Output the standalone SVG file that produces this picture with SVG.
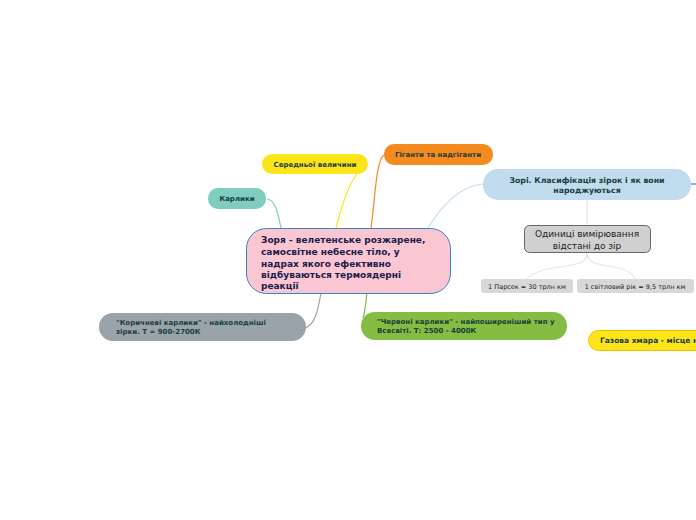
<svg xmlns="http://www.w3.org/2000/svg" width="696" height="520" viewBox="0 0 696 520">
<style>
.t{font-family:"DejaVu Sans","Verdana",sans-serif;font-weight:bold;fill:#173d3b}
.n{font-family:"DejaVu Sans","Verdana",sans-serif;fill:#222}
.c{fill:none;stroke-width:1.2}
</style>
<rect width="696" height="520" fill="#fff"/>
<g id="connectors">
<path class="c" d="M267,199 C276,200 278,214 281,228" stroke="#7fcdc0"/>
<path class="c" d="M359,171 C348,185 342,205 336,228" stroke="#fde51a"/>
<path class="c" d="M384,155 C376,160 375,200 371,228" stroke="#f58a1f"/>
<path class="c" d="M483,184 C460,186 442,205 428,228" stroke="#c2dcef"/>
<path class="c" d="M691,184 L696,184" stroke="#3b82c4"/>
<path class="c" d="M321,293 C318,310 315,325 305,328" stroke="#9ba3aa"/>
<path class="c" d="M367,293 C366,302 365,312 363,318" stroke="#84bd42"/>
<path class="c" d="M587,199 L587,225" stroke="#dde8f0"/>
<path class="c" d="M587,253 C587,262 580,264 560,267 C545,269 532,272 527,279" stroke="#dde8f0"/>
<path class="c" d="M587,253 C587,262 594,264 614,267 C625,269 632,272 635,279" stroke="#dde8f0"/>
</g>
<g id="center">
<rect x="246.5" y="228.5" width="204" height="65" rx="20" fill="#f9c6d1" stroke="#3b82c4" stroke-width="1"/>
<text class="t" font-size="9" style="fill:#1b1b4b"><tspan x="261" y="243">Зоря - велетенське розжарене,</tspan><tspan x="261" y="255">самосвітне небесне тіло, у</tspan><tspan x="261" y="267">надрах якого ефективно</tspan><tspan x="261" y="278">відбуваються термоядерні</tspan><tspan x="261" y="289">реакції</tspan></text>
</g>
<g id="karlyky">
<rect x="208" y="188" width="58" height="21" rx="10" fill="#7fcdc0"/>
<text class="t" font-size="7" x="237" y="201" text-anchor="middle">Карлики</text>
</g>
<g id="serednoi">
<rect x="262" y="154" width="106" height="20" rx="10" fill="#fde51a"/>
<text class="t" font-size="7" x="315" y="167" text-anchor="middle">Середньої величини</text>
</g>
<g id="giganty">
<rect x="384" y="144" width="109" height="21" rx="10" fill="#f58a1f"/>
<text class="t" font-size="7" x="438" y="157" text-anchor="middle">Гіганти та надгіганти</text>
</g>
<g id="zori">
<rect x="483" y="169" width="208" height="31" rx="15" fill="#c2dcef"/>
<text class="t" font-size="7.8" text-anchor="middle"><tspan x="587" y="183">Зорі. Класифікація зірок і як вони</tspan><tspan x="587" y="193">народжуються</tspan></text>
</g>
<g id="odynytsi">
<rect x="524.5" y="225.5" width="126" height="27" rx="5" fill="#d0d0d0" stroke="#666" stroke-width="1"/>
<text class="n" font-size="9" text-anchor="middle"><tspan x="587" y="237">Одиниці вимірювання</tspan><tspan x="587" y="249">відстані до зір</tspan></text>
</g>
<g id="parsek">
<rect x="481" y="279" width="92" height="14" rx="3" fill="#d8d8d8"/>
<text class="n" font-size="6.5" x="527" y="289" text-anchor="middle">1 Парсек = 30 трлн км</text>
</g>
<g id="svitlovyi">
<rect x="577" y="279" width="117" height="14" rx="3" fill="#d8d8d8"/>
<text class="n" font-size="6.5" x="635" y="289" text-anchor="middle">1 світловий рік = 9,5 трлн км</text>
</g>
<g id="hmara">
<rect x="588.5" y="330.5" width="120" height="20" rx="10" fill="#fde51a" stroke="#f0c000" stroke-width="1"/>
<text class="t" font-size="7.5" x="600" y="343">Газова хмара - місце н</text>
</g>
<g id="korychnevi">
<rect x="99" y="313" width="207" height="28" rx="14" fill="#9ba3aa"/>
<text class="t" font-size="7"><tspan x="116" y="325">"Коричневі карлики" - найхолодніші</tspan><tspan x="116" y="334">зірки. Т = 900-2700К</tspan></text>
</g>
<g id="chervoni">
<rect x="361" y="312" width="206" height="28" rx="14" fill="#84bd42"/>
<text class="t" font-size="7"><tspan x="377" y="324">"Червоні карлики" - найпоширеніший тип у</tspan><tspan x="377" y="333">Всесвіті. Т: 2500 - 4000К</tspan></text>
</g>
</svg>
